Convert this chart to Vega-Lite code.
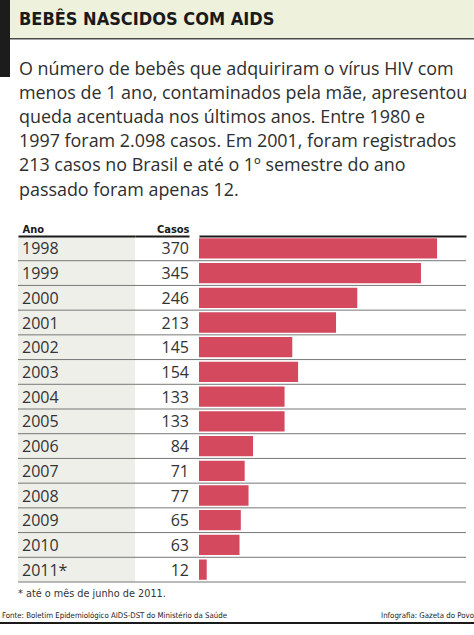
{
  "$schema": "https://vega.github.io/schema/vega-lite/v6.json",
  "padding": 0,
  "background": "#ffffff",
  "spacing": 0,
  "config": {
    "view": {"stroke": null},
    "font": "Open Sans",
    "concat": {"spacing": 0}
  },
  "datasets": {
    "casos": [
      {"Ano": "1998", "Casos": 370},
      {"Ano": "1999", "Casos": 345},
      {"Ano": "2000", "Casos": 246},
      {"Ano": "2001", "Casos": 213},
      {"Ano": "2002", "Casos": 145},
      {"Ano": "2003", "Casos": 154},
      {"Ano": "2004", "Casos": 133},
      {"Ano": "2005", "Casos": 133},
      {"Ano": "2006", "Casos": 84},
      {"Ano": "2007", "Casos": 71},
      {"Ano": "2008", "Casos": 77},
      {"Ano": "2009", "Casos": 65},
      {"Ano": "2010", "Casos": 63},
      {"Ano": "2011*", "Casos": 12}
    ]
  },
  "vconcat": [
    {
      "spacing": 0,
      "hconcat": [
        {
          "width": 10,
          "height": 77,
          "data": {"values": []},
          "mark": "point",
          "view": {"fill": "#1c1c1c", "stroke": null}
        },
        {
          "spacing": 20,
          "vconcat": [
            {
              "spacing": 0,
              "vconcat": [
                {
                  "width": 464,
                  "height": 38,
                  "view": {"fill": "#eef1dc", "stroke": null},
                  "data": {"values": [{"t": "BEBÊS NASCIDOS COM AIDS"}]},
                  "mark": {"type": "text", "align": "left", "baseline": "alphabetic", "dx": 9, "dy": 6, "font": "DejaVu Sans Condensed", "fontWeight": "bold", "fontSize": 18, "color": "#1a1a1a"},
                  "encoding": {
                    "text": {"field": "t"},
                    "x": {"datum": 0, "type": "quantitative", "scale": {"domain": [0, 1]}, "axis": null}
                  }
                },
                {
                  "width": 464,
                  "height": 1.5,
                  "data": {"values": []},
                  "mark": "point",
                  "view": {"fill": "#4a4a4a", "stroke": null}
                }
              ]
            },
            {
              "title": {
                "text": [
                  "O número de bebês que adquiriram o vírus HIV com",
                  "menos de 1 ano, contaminados pela mãe, apresentou",
                  "queda acentuada nos últimos anos. Entre 1980 e",
                  "1997 foram 2.098 casos. Em 2001, foram registrados",
                  "213 casos no Brasil e até o 1º semestre do ano",
                  "passado foram apenas 12."
                ],
                "anchor": "start",
                "frame": "group",
                "font": "Open Sans",
                "fontSize": 17.9,
                "fontWeight": "normal",
                "color": "#2e2e2e",
                "lineHeight": 24.2,
                "dx": 9,
                "offset": 23.5
              },
              "spacing": 0,
              "bounds": "flush",
              "data": {"name": "casos"},
              "hconcat": [
                {
                  "width": 8,
                  "height": 346,
                  "data": {"values": []},
                  "mark": "point"
                },
                {
                  "width": 117,
                  "height": 346,
                  "view": {"fill": "#efefea", "stroke": null},
                  "layer": [
                    {
                      "mark": {"type": "rule", "color": "#777777", "strokeWidth": 1},
                      "encoding": {
                        "y": {"field": "Ano", "type": "nominal", "sort": null, "bandPosition": 1, "scale": {"paddingInner": 0, "paddingOuter": 0}, "axis": null}
                      }
                    },
                    {
                      "mark": {"type": "text", "align": "left", "baseline": "middle", "dx": 4, "dy": 1, "fontSize": 16, "color": "#333333"},
                      "encoding": {
                        "y": {"field": "Ano", "type": "nominal", "sort": null, "scale": {"paddingInner": 0, "paddingOuter": 0}, "axis": null},
                        "text": {"field": "Ano"},
                        "x": {"datum": 0, "type": "quantitative", "scale": {"domain": [0, 1]}, "axis": {"orient": "top", "ticks": false, "labels": false, "grid": false, "domainColor": "#1a1a1a", "domainWidth": 2, "title": "Ano", "titleAnchor": "start", "titleAlign": "left", "titleX": 4, "titleBaseline": "alphabetic", "titlePadding": 4, "titleFont": "DejaVu Sans Condensed", "titleFontWeight": "bold", "titleFontSize": 11, "titleColor": "#1a1a1a"}}
                      }
                    }
                  ]
                },
                {
                  "width": 54,
                  "height": 346,
                  "layer": [
                    {
                      "mark": {"type": "rule", "color": "#777777", "strokeWidth": 1},
                      "encoding": {
                        "y": {"field": "Ano", "type": "nominal", "sort": null, "bandPosition": 1, "scale": {"paddingInner": 0, "paddingOuter": 0}, "axis": null}
                      }
                    },
                    {
                      "mark": {"type": "text", "align": "right", "baseline": "middle", "dy": 1, "fontSize": 16, "color": "#333333"},
                      "encoding": {
                        "y": {"field": "Ano", "type": "nominal", "sort": null, "scale": {"paddingInner": 0, "paddingOuter": 0}, "axis": null},
                        "text": {"field": "Casos"},
                        "x": {"datum": 1, "type": "quantitative", "scale": {"domain": [0, 1]}, "axis": {"orient": "top", "ticks": false, "labels": false, "grid": false, "domainColor": "#1a1a1a", "domainWidth": 2, "title": "Casos", "titleAnchor": "end", "titleAlign": "right", "titleBaseline": "alphabetic", "titlePadding": 4, "titleFont": "DejaVu Sans Condensed", "titleFontWeight": "bold", "titleFontSize": 11, "titleColor": "#1a1a1a"}}
                      }
                    }
                  ]
                },
                {
                  "width": 277,
                  "height": 346,
                  "layer": [
                    {
                      "mark": {"type": "rule", "color": "#777777", "strokeWidth": 1},
                      "encoding": {
                        "y": {"field": "Ano", "type": "nominal", "sort": null, "bandPosition": 1, "scale": {"paddingInner": 0, "paddingOuter": 0}, "axis": null}
                      }
                    },
                    {
                      "mark": {"type": "bar", "color": "#d5495f", "height": {"band": 0.82}},
                      "encoding": {
                        "y": {"field": "Ano", "type": "nominal", "sort": null, "scale": {"paddingInner": 0, "paddingOuter": 0}, "axis": null},
                        "x": {"field": "Casos", "type": "quantitative", "scale": {"domain": [0, 415], "range": [10, 277], "nice": false, "zero": true}, "axis": {"orient": "top", "ticks": false, "labels": false, "grid": false, "domainColor": "#1a1a1a", "domainWidth": 2, "title": null}}
                      }
                    }
                  ]
                }
              ]
            }
          ]
        }
      ]
    },
    {
      "spacing": 0,
      "vconcat": [
        {
          "width": 474,
          "height": 39,
          "layer": [
            {
              "data": {"values": [{"t": "* até o mês de junho de 2011."}]},
              "mark": {"type": "text", "align": "left", "baseline": "alphabetic", "dx": 18, "dy": -5.5, "font": "DejaVu Sans Condensed", "fontSize": 10.8, "color": "#333333"},
              "encoding": {
                "text": {"field": "t"},
                "x": {"datum": 0, "type": "quantitative", "scale": {"domain": [0, 1]}, "axis": null}
              }
            },
            {
              "data": {"values": [{"t": "Fonte: Boletim Epidemiológico AIDS-DST do Ministério da Saúde"}]},
              "mark": {"type": "text", "align": "left", "baseline": "alphabetic", "dx": 2, "dy": 15.5, "font": "DejaVu Sans Condensed", "fontSize": 7.8, "color": "#1a1a1a"},
              "encoding": {
                "text": {"field": "t"},
                "x": {"datum": 0, "type": "quantitative", "scale": {"domain": [0, 1]}, "axis": null}
              }
            },
            {
              "data": {"values": [{"t": "Infografia: Gazeta do Povo"}]},
              "mark": {"type": "text", "align": "right", "baseline": "alphabetic", "dy": 15.5, "font": "DejaVu Sans Condensed", "fontSize": 7.8, "color": "#1a1a1a"},
              "encoding": {
                "text": {"field": "t"},
                "x": {"datum": 1, "type": "quantitative", "scale": {"domain": [0, 1]}, "axis": null}
              }
            }
          ]
        },
        {
          "width": 474,
          "height": 2,
          "data": {"values": []},
          "mark": "point",
          "view": {"fill": "#1a1a1a", "stroke": null}
        }
      ]
    }
  ]
}
